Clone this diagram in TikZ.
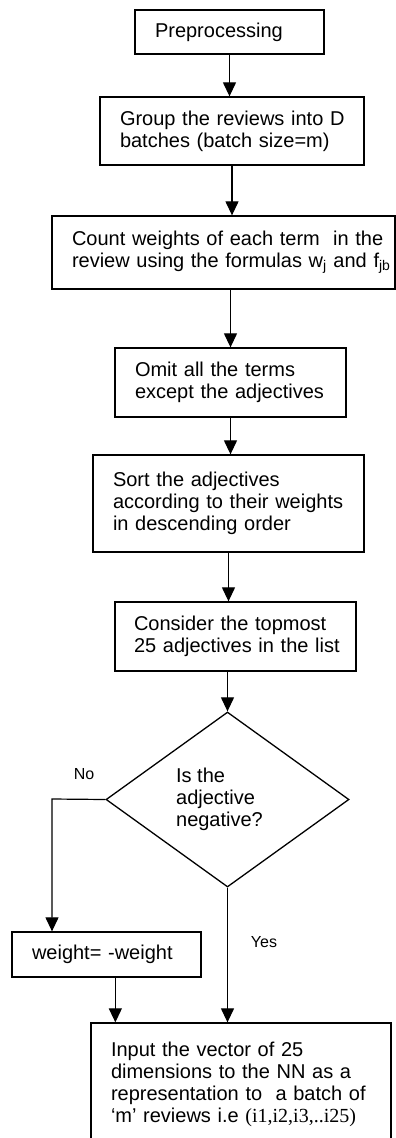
\documentclass[tikz,border=0pt]{standalone}
\usepackage{fontspec}
\setmainfont{Liberation Sans}
\newfontfamily\tnrfont{Liberation Serif}
\usetikzlibrary{shapes.geometric,arrows.meta,calc}
\begin{document}
\begin{tikzpicture}[x=1pt,y=-1pt,
  every node/.style={font=\fontsize{20}{22}\selectfont},
  box/.style={draw,line width=1.3pt,align=left,inner ysep=0pt,inner xsep=20pt},
  arr/.style={line width=1.2pt,-{Triangle[length=14pt,width=13pt]}},
  lbl/.style={font=\fontsize{16}{18}\selectfont,inner sep=0pt}]
\useasboundingbox (0,0) rectangle (396,1138);
% boxes: center x, center y, width, height
\node[box,text width=149pt,minimum height=44pt] (pre) at (229.5,32) {\mbox{Preprocessing}};
\node[box,text width=224pt,minimum height=68pt] (grp) at (232,131) {\mbox{Group the reviews into D}\\\mbox{batches (batch size=m)}};
\node[box,text width=303pt,minimum height=73pt] (cnt) at (223.5,252.5) {\mbox{Count weights of each term\ \ in the}\\\mbox{review using the formulas w\textsubscript{j} and f\textsubscript{jb}}};
\node[box,text width=191pt,minimum height=69pt] (omit) at (230.5,382.5) {\mbox{Omit all the terms}\\\mbox{except the adjectives}};
\node[box,text width=231pt,minimum height=97pt] (sort) at (228.5,503.5) {\mbox{Sort the adjectives}\\\mbox{according to their weights}\\\mbox{in descending order}};
\node[box,text width=203pt,minimum height=69pt,inner xsep=19pt] (cons) at (235.5,636.5) {\mbox{Consider the topmost}\\\mbox{25 adjectives in the list}};
\node[diamond,draw,line width=1.3pt,inner sep=0pt,minimum width=243pt,minimum height=175pt,align=left] (dia) at (227.5,799.5) {Is the\\adjective\\negative?\hspace*{16pt}};
\node[box,text width=149pt,minimum height=45pt] (wt) at (106.5,954.5) {\mbox{weight= -weight}};
\node[box,text width=260pt,minimum height=122pt] (fin) at (241,1084) {\mbox{Input the vector of 25}\\\mbox{dimensions to the NN as a}\\\mbox{representation to\ \ a batch of}\\\mbox{‘m’ reviews i.e {\tnrfont (i1,i2,i3,..i25)}}};
% labels
\node[lbl] (no) at (84,774) {No};
\node[lbl] (yes) at (264,942) {Yes};
% connectors
\coordinate (nocorner) at (52,799);
\draw[arr] (pre.south) -- (pre.south |- grp.north);
\draw[arr] (grp.south) -- (grp.south |- cnt.north);
\draw[arr] (cnt.south -| omit.north) -- (omit.north);
\draw[arr] (omit.south) -- (omit.south |- sort.north);
\draw[arr] (sort.south) -- (sort.south |- cons.north);
\draw[arr] (dia.north |- cons.south) -- (dia.north);
\draw[arr] (dia.west) -- (nocorner) -- (nocorner |- wt.north);
\draw[arr] ($(wt.south west)+(104,0)$) -- ($(fin.north west)+(25,0)$);
\draw[arr] (dia.south) -- (dia.south |- fin.north);
\end{tikzpicture}
\end{document}
